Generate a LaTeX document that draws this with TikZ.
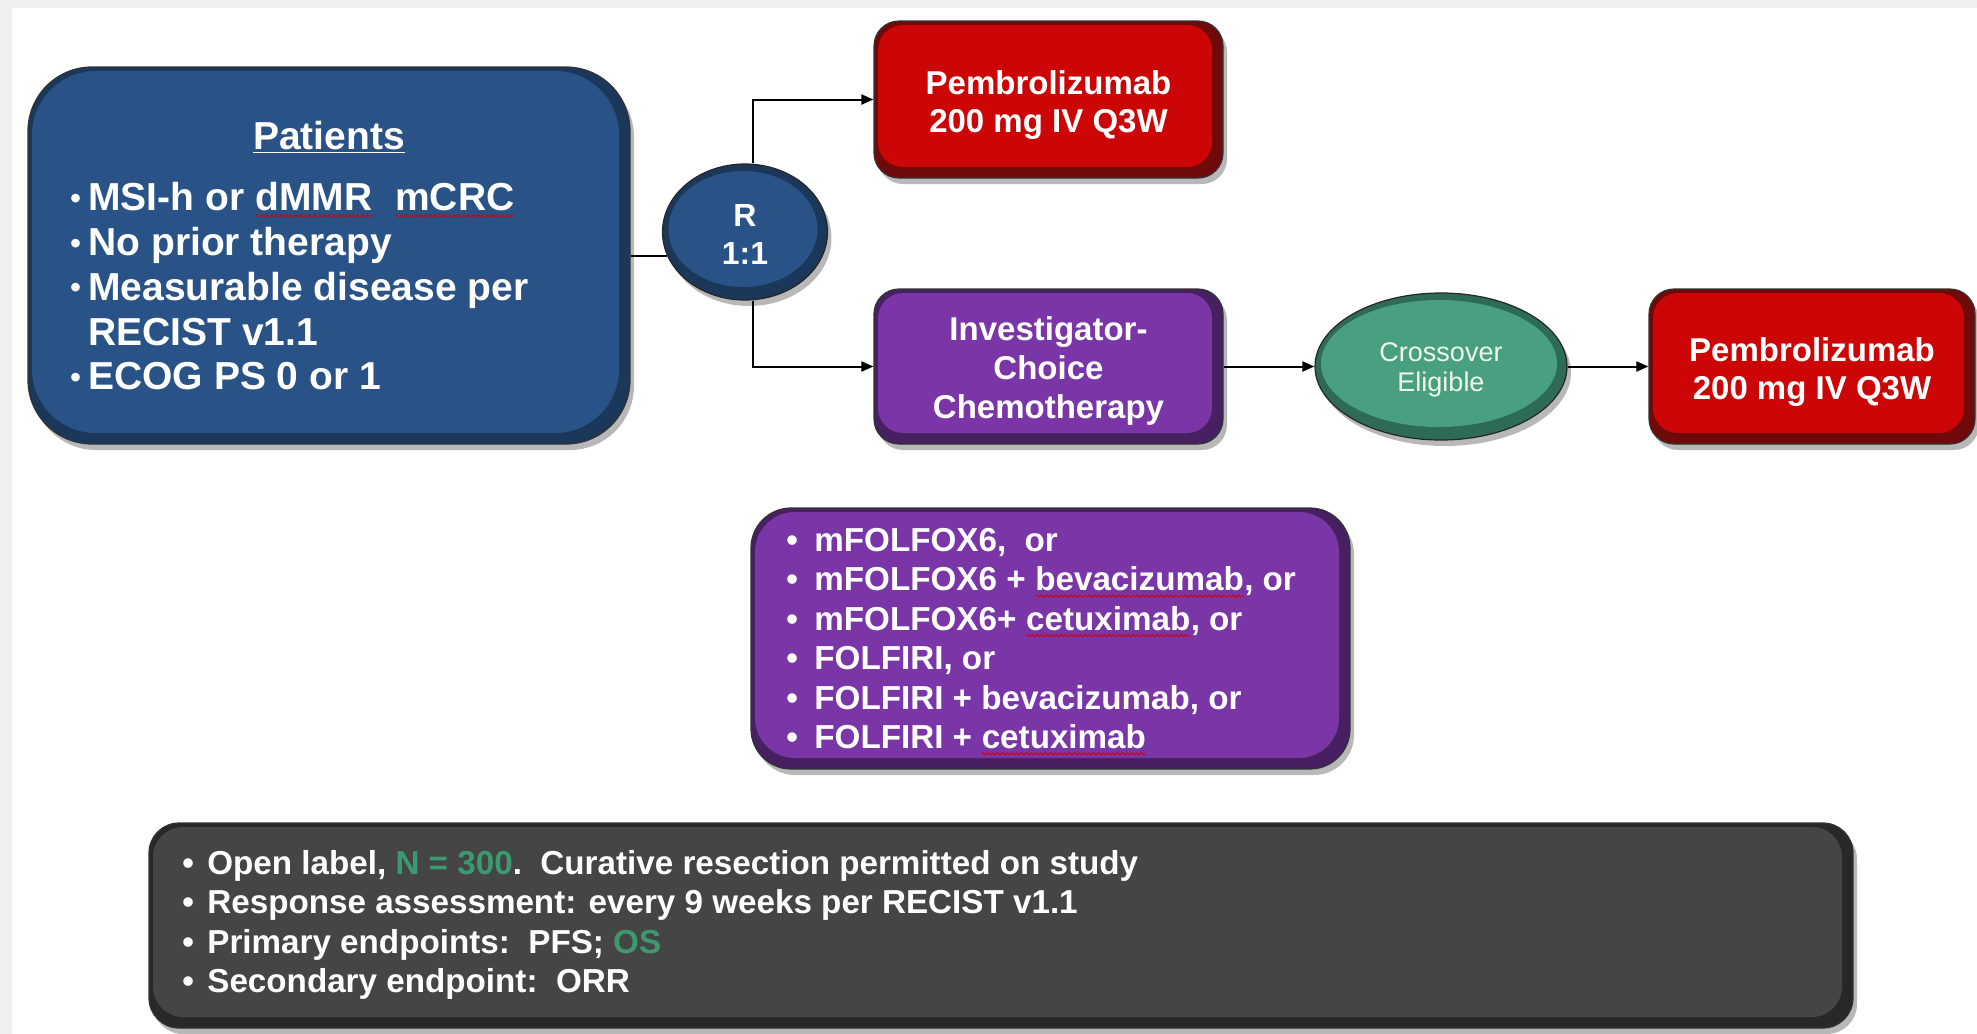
\documentclass[tikz,border=0pt]{standalone}
\usepackage{fontspec}
\setmainfont{Liberation Sans}
\usetikzlibrary{arrows.meta,shapes.geometric,calc,decorations.pathmorphing}
\definecolor{bluemain}{RGB}{41,83,135}
\definecolor{bluedark}{RGB}{27,55,90}
\definecolor{redmain}{RGB}{204,6,6}
\definecolor{reddark}{RGB}{112,10,10}
\definecolor{purpmain}{RGB}{122,54,166}
\definecolor{purpdark}{RGB}{70,32,96}
\definecolor{grnmain}{RGB}{72,160,129}
\definecolor{grndark}{RGB}{45,107,85}
\definecolor{greymain}{RGB}{69,69,69}
\definecolor{greydark}{RGB}{40,40,40}
\definecolor{txtgreen}{RGB}{60,154,112}
\definecolor{pagegrey}{RGB}{238,240,239}
\definecolor{creamtxt}{RGB}{240,248,232}
\newcommand\wv[1]{\tikz[baseline=(wvw.base)]{\node[inner sep=0pt,outer sep=0pt,anchor=base] (wvw) {#1};\draw[red!85!black,line width=0.45pt,decorate,decoration={snake,amplitude=0.6pt,segment length=2.4pt}] ([yshift=-2.6pt]wvw.base west) -- ([yshift=-2.6pt]wvw.base east);}}
\newcommand\pbul{\makebox[9pt][l]{\raisebox{1.2pt}{\fontsize{15}{15}\selectfont •}}}
\newcommand\cbul{\makebox[14pt][l]{•}}
\newcommand\bbul{\makebox[12.5pt][l]{•}}
\newcommand\dn[1]{\rule{0pt}{#1}}
\tikzset{
  bevel/.style n args={3}{rectangle, rounded corners=#3, fill=#2, draw=black!80, line width=0.6pt,
    preaction={fill=black, opacity=0.28, transform canvas={xshift=2pt,yshift=-3pt}},
    path picture={\fill[#1, rounded corners=#3] ([shift={(2pt,-2pt)}]path picture bounding box.north west) rectangle ([shift={(-5.5pt,5.5pt)}]path picture bounding box.south east);}},
  ebevel/.style 2 args={ellipse, fill=#2, draw=black!85, line width=0.6pt,
    preaction={fill=black, opacity=0.28, transform canvas={xshift=2pt,yshift=-3pt}},
    path picture={\fill[#1] let \p1=(path picture bounding box.north east), \p2=(path picture bounding box.south west) in ($(path picture bounding box.center)+(-1pt,1.5pt)$) ellipse [x radius={(\x1-\x2)/2-4pt}, y radius={(\y1-\y2)/2-5pt}];}},
  boxtxt/.style={text=white, font=\bfseries\fontsize{16.5}{19}\selectfont, align=center},
  listtxt/.style={text=white, font=\bfseries\fontsize{16.6}{19.7}\selectfont, align=left, inner sep=0pt, anchor=north west},
  conn/.style={line width=1pt, draw=black},
  arr/.style={conn, -{Triangle[length=6pt,width=5pt]}}
}
\begin{document}
\begin{tikzpicture}[x=0.5pt,y=-0.5pt]
\useasboundingbox (0,0) rectangle (1977,1034);
\fill[pagegrey] (0,0) rectangle (1977,1034);
\fill[white] (12,8) rectangle (1977,1034);

% boxes
\node[bevel={bluemain}{bluedark}{32pt}, minimum width=301pt, minimum height=188.5pt] (pat) at (329,255.5) {};
\node[ebevel={bluemain}{bluedark}, minimum width=82.5pt, minimum height=68pt, inner sep=0pt, boxtxt, font=\bfseries\fontsize{16}{19}\selectfont] (R) at (745,232) {\dn{13.5pt}R\\1:1};
\node[bevel={redmain}{reddark}{12.5pt}, minimum width=174.5pt, minimum height=78.5pt, boxtxt] (red1) at (1048.5,99.5) {\dn{17pt}Pembrolizumab\\200 mg IV Q3W};
\node[bevel={purpmain}{purpdark}{12.5pt}, minimum width=174.5pt, minimum height=77.5pt, boxtxt, font=\bfseries\fontsize{16.5}{19.5}\selectfont] (chemo) at (1048.5,366.5) {\dn{16pt}Investigator-\\Choice\\Chemotherapy};
\node[ebevel={grnmain}{grndark}, minimum width=126pt, minimum height=73.5pt, inner sep=0pt, align=center, text=creamtxt, font=\fontsize{13.5}{15}\selectfont] (cross) at (1441,366.5) {\dn{13pt}Crossover\\Eligible};
\node[bevel={redmain}{reddark}{12.5pt}, minimum width=163pt, minimum height=77.5pt, boxtxt] (red2) at (1812,366.5) {\dn{17pt}Pembrolizumab\\200 mg IV Q3W};
\node[bevel={purpmain}{purpdark}{20pt}, minimum width=299.5pt, minimum height=130.5pt] (opts) at (1050.5,638.5) {};
\node[bevel={greymain}{greydark}{15pt}, minimum width=852pt, minimum height=102.5pt] (info) at (1001,925.5) {};

% texts
\node[text=white, font=\bfseries\fontsize{19.5}{22.4}\selectfont, anchor=base, inner sep=0pt] (pathead) at (329,149) {\underline{Patients}};
\node[listtxt, font=\bfseries\fontsize{19.5}{22.4}\selectfont] (patlist) at (70,182) {\pbul MSI-h or \wv{dMMR}\ \ \wv{mCRC}\\
\pbul No prior therapy\\
\pbul Measurable disease per\\
\hspace*{9pt}RECIST v1.1\\
\pbul ECOG PS 0 or 1};
\node[listtxt] (optlist) at (786,528) {\cbul mFOLFOX6,\ \ or\\
\cbul mFOLFOX6 + \wv{bevacizumab}, or\\
\cbul mFOLFOX6+ \wv{cetuximab}, or\\
\cbul FOLFIRI, or\\
\cbul FOLFIRI + bevacizumab, or\\
\cbul FOLFIRI + \wv{cetuximab}};
\node[listtxt] (infolist) at (182,850) {\bbul Open label, \textcolor{txtgreen}{N = 300}.\ \ Curative resection permitted on study\\
\bbul Response assessment: every 9 weeks per RECIST v1.1\\
\bbul Primary endpoints:\ \ PFS; \textcolor{txtgreen}{OS}\\
\bbul Secondary endpoint:\ \ ORR};

% connectors
\draw[conn] (pat.east) -- (pat.east -| R.197);
\draw[arr] ([xshift=4pt]R.north) |- (red1.west);
\draw[arr] ([xshift=4pt]R.south) |- (chemo.west);
\draw[arr] (chemo.east) -- (cross.west);
\draw[arr] (cross.east) -- (red2.west);
\end{tikzpicture}
\end{document}
